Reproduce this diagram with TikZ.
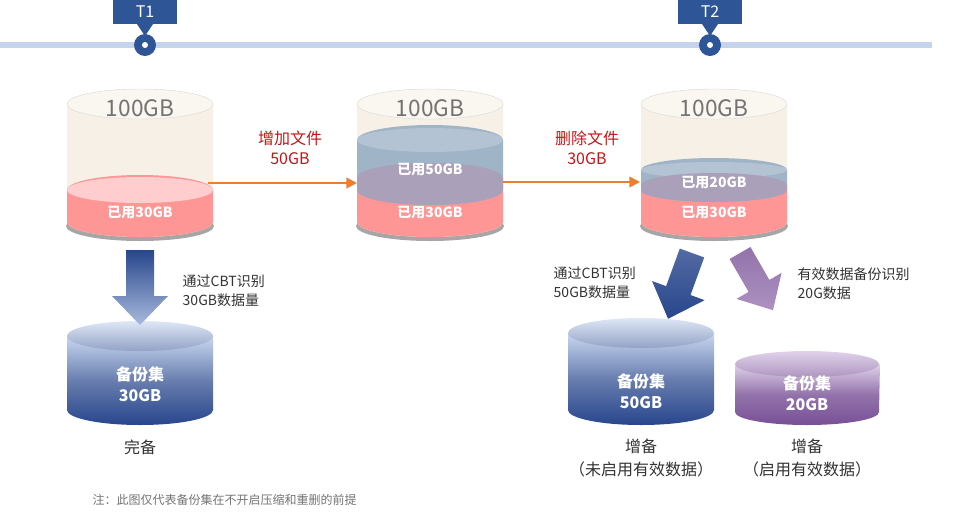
\documentclass[tikz,border=0pt]{standalone}
\usepackage{fontspec}
\setmainfont{Noto Sans CJK SC}
\usetikzlibrary{arrows.meta,shapes.arrows}
\definecolor{tl}{RGB}{197,212,236}
\definecolor{tb}{RGB}{46,86,150}
\definecolor{bodyc}{RGB}{246,240,230}
\definecolor{pinkc}{RGB}{255,150,150}
\definecolor{pinkt}{RGB}{255,205,205}
\definecolor{bluec}{RGB}{160,180,200}
\definecolor{purpc}{RGB}{170,160,185}
\definecolor{redt}{RGB}{200,20,20}
\definecolor{orc}{RGB}{237,125,49}
\definecolor{dblue}{RGB}{40,70,140}
\definecolor{lblue}{RGB}{200,215,240}
\definecolor{dpurp}{RGB}{120,80,150}
\definecolor{lpurp}{RGB}{225,210,235}
\definecolor{txt}{RGB}{50,50,50}
\newcommand\myband[6]{\fill[#6] (#1-#2,#3) -- (#1-#2,#4) arc[start angle=180,end angle=0,x radius=#2,y radius=#5] -- (#1+#2,#3) arc[start angle=0,end angle=-180,x radius=#2,y radius=#5] -- cycle;}
\begin{document}
\begin{tikzpicture}[x=0.75pt,y=-0.75pt,
 lab/.style={font=\fontsize{10.5}{12}\selectfont\bfseries,text=white},
 big/.style={font=\fontsize{17}{18}\selectfont,text=black!55},
 red/.style={font=\fontsize{12}{15}\selectfont,text=redt,align=center},
 ann/.style={font=\fontsize{10.5}{14}\selectfont,text=txt,align=left},
 capt/.style={font=\fontsize{12}{17}\selectfont,text=txt,align=center},
 oarr/.style={orc,line width=1.3pt,-{Triangle[length=8pt,width=8pt]}}]
\useasboundingbox (0,0) rectangle (965,522);
\draw[tl,line width=4.5pt] (0,45) -- (932,45);
\foreach \x/\t/\n in {145/T1/ta,710/T2/tb} {
 \fill[tb] (\x-8,24) -- (\x+8,24) -- (\x,36) -- cycle;
 \fill[tb] (\x,45) circle[radius=11];
 \fill[white] (\x,45) circle[radius=3];
 \node[fill=tb,text=white,minimum width=48pt,minimum height=18pt,inner sep=0,font=\fontsize{12}{12}\selectfont] (\n) at (\x,12) {\t};
}
\foreach \cx/\n in {140/c1,430/c2,714/c3} {
 \fill[black!35] (\cx,226) ellipse[x radius=74,y radius=15];
 \myband{\cx}{73}{104}{222}{15}{bodyc}
 \fill[bodyc!60!white] (\cx,104) ellipse[x radius=73,y radius=15];
 \draw[black!15,line width=0.3pt] (\cx,104) ellipse[x radius=73,y radius=15];
 \node[big] (\n) at (\cx,108) {100GB};
}
\myband{140}{73}{190}{222}{15}{pinkc}
\fill[pinkt] (140,190) ellipse[x radius=73,y radius=13];
\node[lab] (u1) at (140,213) {已用30GB};
\myband{430}{73}{190}{222}{15}{pinkc}
\myband{430}{73}{140}{190}{15}{bluec}
\fill[bluec!80!white] (430,140) ellipse[x radius=73,y radius=12];
\fill[purpc] (430,178) ellipse[x radius=73,y radius=15];
\myband{430}{73}{178}{190}{15}{purpc}
\node[lab] (u2a) at (430,170) {已用50GB};
\node[lab] (u2b) at (430,213) {已用30GB};
\myband{714}{73}{190}{222}{15}{pinkc}
\myband{714}{73}{170}{190}{12}{bluec}
\fill[bluec!80!white] (714,170) ellipse[x radius=73,y radius=8];
\myband{714}{73}{185}{190}{12}{purpc}
\fill[purpc] (714,185) ellipse[x radius=73,y radius=10];
\node[lab] (u3a) at (714,183) {已用20GB};
\node[lab] (u3b) at (714,213) {已用30GB};
\draw[oarr] (208,183) -- (357,183);
\draw[oarr] (503,182) -- (640,182);
\node[red] (r1) at (290,148) {增加文件\\50GB};
\node[red] (r2) at (587,148) {删除文件\\30GB};
\shade[top color=lblue,bottom color=dblue,middle color=dblue!70] (67,336) -- (67,410) arc[start angle=180,end angle=0,x radius=73,y radius=15] -- (213,336) -- cycle;
\shade[top color=lblue!60!white,bottom color=dblue!50] (140,336) ellipse[x radius=73,y radius=15];
\node[lab,align=center,font=\fontsize{12}{16}\selectfont\bfseries] (b1) at (140,384) {备份集\\30GB};
\node[capt] (k1) at (140,447) {完备};
\shade[top color=lblue,bottom color=dblue,middle color=dblue!70] (568,333) -- (568,410) arc[start angle=180,end angle=0,x radius=73,y radius=15] -- (714,333) -- cycle;
\shade[top color=lblue!60!white,bottom color=dblue!50] (641,333) ellipse[x radius=73,y radius=15];
\node[lab,align=center,font=\fontsize{12}{16}\selectfont\bfseries] (b2) at (641,391) {备份集\\50GB};
\node[capt] (k2) at (641,458) {增备\\（未启用有效数据）};
\shade[top color=lpurp,bottom color=dpurp,middle color=dpurp!80] (735,364) -- (735,412) arc[start angle=180,end angle=0,x radius=72,y radius=13] -- (880,364) -- cycle;
\shade[top color=lpurp,bottom color=dpurp!60] (807,364) ellipse[x radius=72,y radius=13];
\node[lab,align=center,font=\fontsize{12}{16}\selectfont\bfseries] (b3) at (807,393) {备份集\\20GB};
\node[capt] (k3) at (807,458) {增备\\（启用有效数据）};
\shade[top color=dblue,bottom color=lblue!80!dblue] (126,250) -- (154,250) -- (154,296) -- (168,296) -- (140,325) -- (112,296) -- (126,296) -- cycle;
\begin{scope}[shift={(692,253)},rotate=-20]
\shade[top color=dblue!80,bottom color=dblue] (-13,0) -- (13,0) -- (13,40) -- (28,40) -- (0,70) -- (-28,40) -- (-13,40) -- cycle;
\end{scope}
\begin{scope}[shift={(740,253)},rotate=30]
\shade[top color=dpurp!80,bottom color=lpurp!50!dpurp] (-12,0) -- (12,0) -- (12,38) -- (26,38) -- (0,66) -- (-26,38) -- (-12,38) -- cycle;
\end{scope}
\node[ann,anchor=west] (n1) at (178,291) {通过CBT识别\\30GB数据量};
\node[ann,anchor=west] (n2) at (549,283) {通过CBT识别\\50GB数据量};
\node[ann,anchor=west] (n3) at (793,284) {有效数据备份识别\\20G数据};
\node[anchor=west,text=black!55,font=\fontsize{9}{11}\selectfont] (note) at (88,500) {注：此图仅代表备份集在不开启压缩和重删的前提};
\end{tikzpicture}
\end{document}
